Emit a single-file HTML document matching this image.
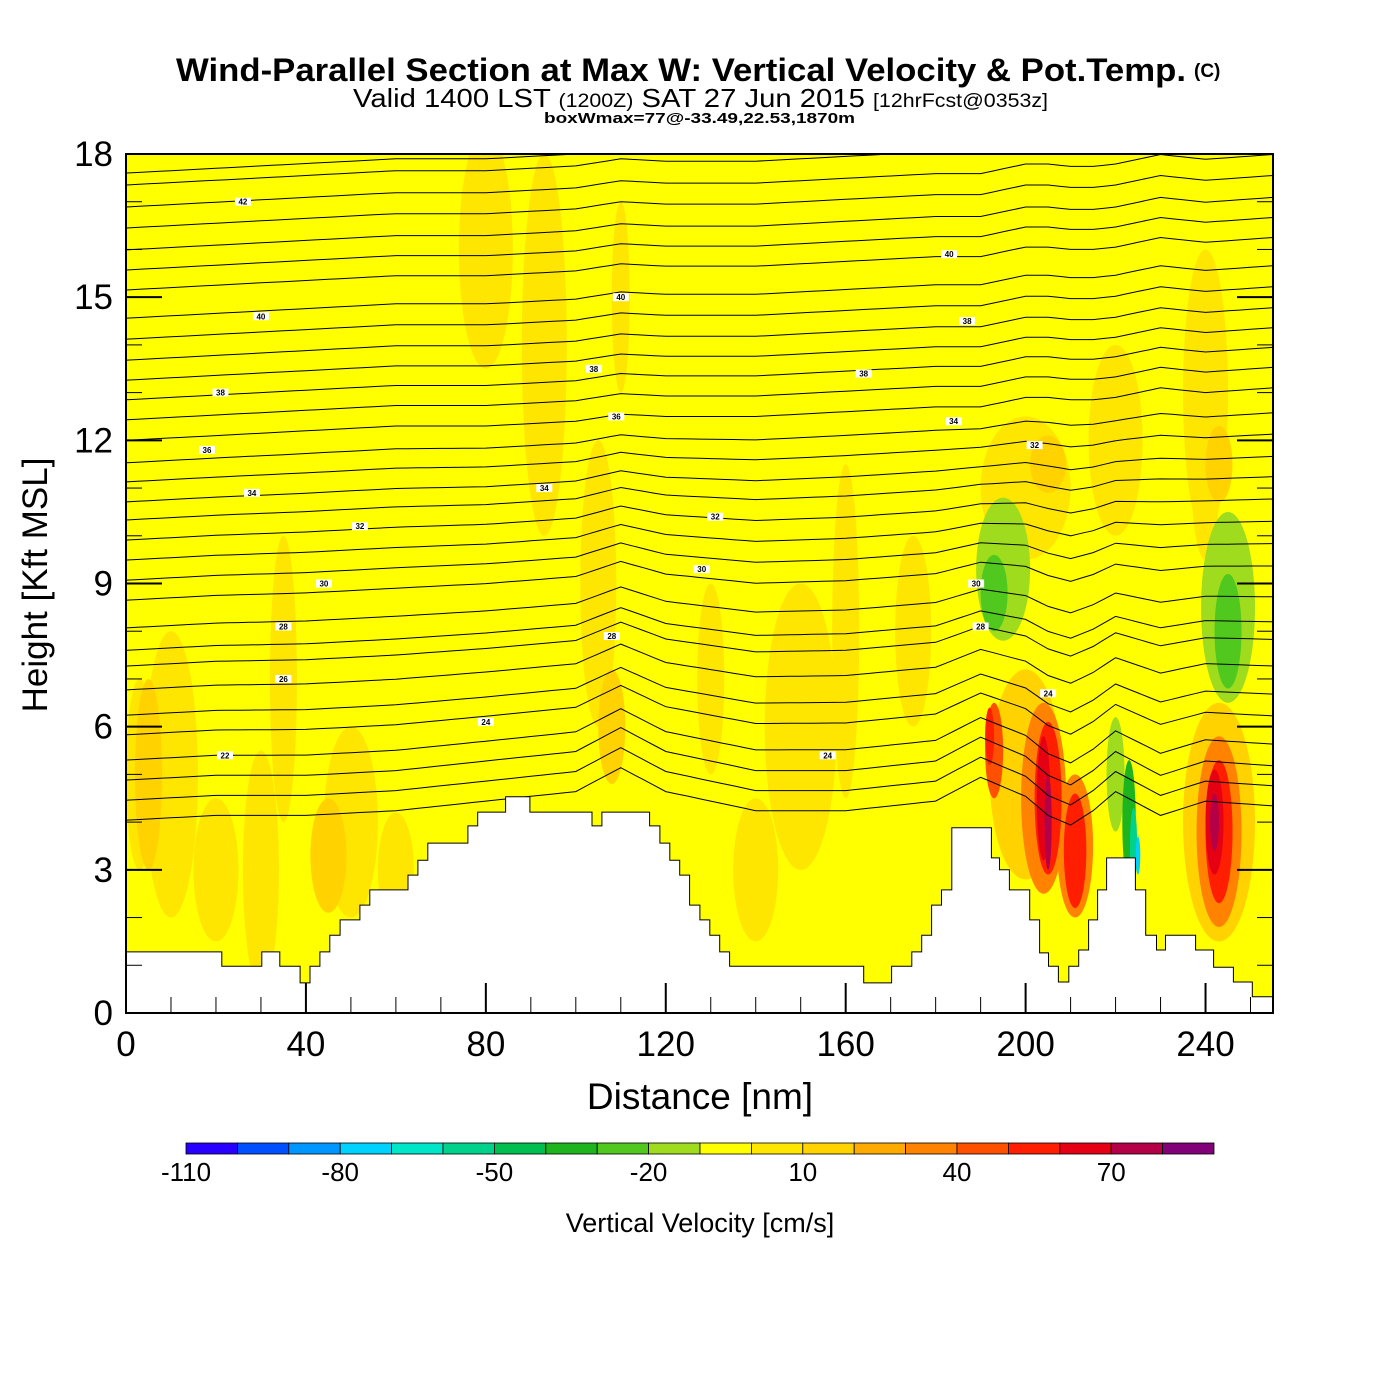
<!DOCTYPE html>
<html><head><meta charset="utf-8">
<style>
html,body{margin:0;padding:0;background:#fff;}
svg{display:block;}
text{font-family:"Liberation Sans",sans-serif;}
</style></head>
<body>
<svg id="chart" width="1400" height="1400" viewBox="0 0 1400 1400" xmlns="http://www.w3.org/2000/svg">
  <text x="176" y="81" font-size="32" font-weight="bold" textLength="1010" lengthAdjust="spacingAndGlyphs">Wind-Parallel Section at Max W: Vertical Velocity &amp; Pot.Temp.</text>
  <text x="1194" y="77" font-size="19" font-weight="bold">(C)</text>
  <text x="353" y="107" font-size="26" textLength="695" lengthAdjust="spacingAndGlyphs">Valid 1400 LST <tspan font-size="19">(1200Z)</tspan> SAT 27 Jun 2015 <tspan font-size="19">[12hrFcst@0353z]</tspan></text>
  <text x="544" y="123" font-size="15" font-weight="bold" textLength="311" lengthAdjust="spacingAndGlyphs">boxWmax=77@-33.49,22.53,1870m</text>
  <defs><clipPath id="plotclip"><rect x="126" y="154" width="1147" height="859"/></clipPath></defs>
  <g id="plot" clip-path="url(#plotclip)"></g>
  <g id="axes"></g>
  <g id="cbar"></g>
  <text x="700" y="1109" text-anchor="middle" font-size="37">Distance [nm]</text>
  <text transform="translate(47,585) rotate(-90)" text-anchor="middle" font-size="35">Height [Kft MSL]</text>
  <text x="700" y="1232" text-anchor="middle" font-size="27">Vertical Velocity [cm/s]</text>
</svg>
<script>
// ---- data ----
const xTicks = [0,40,80,120,160,200,240];
const yTicks = [0,3,6,9,12,15,18];
const cbLevels = [-110,-100,-90,-80,-70,-60,-50,-40,-30,-20,-10,0,10,20,30,40,50,60,70,80,90];
const cbLabels = [-110,-80,-50,-20,10,40,70];
const cbColors = ["#2800ff","#0050ff","#0096ff","#00d2ff","#00e6c8","#00d28c","#00be50","#1eb41e","#50c81e","#a0dc1e","#ffff00","#ffe600","#ffd200","#ffaa00","#ff8200","#ff5000","#ff1e00","#e60014","#b40046","#820078"];
// terrain: step segments start (nm) and height (kft)
const terrainX = [0,21.3,30.2,34.2,38.7,40.9,43.1,45.3,47.6,52,54.2,62.7,64.9,67.1,76,78.2,84.4,89.8,103.6,105.8,116.4,118.7,120.9,123.1,125.3,127.6,129.8,132,134.2,164,170.2,174.7,176.9,179.1,181.3,183.6,192.4,194.2,196.4,200.9,203.1,205.1,207.3,209.6,211.8,214,216,218,224.4,226.7,229.1,231.1,237.8,241.8,246.2,250.4,255];
const terrainH = [1.28,0.98,1.28,0.98,0.63,0.98,1.28,1.63,1.95,2.26,2.58,2.89,3.2,3.56,3.92,4.21,4.53,4.21,3.92,4.21,3.92,3.56,3.2,2.89,2.26,1.95,1.63,1.28,0.98,0.63,0.98,1.28,1.63,2.26,2.58,3.88,3.25,3.0,2.58,1.95,1.26,0.98,0.65,0.98,1.32,1.95,2.58,3.25,2.58,1.63,1.32,1.63,1.32,0.96,0.65,0.34];
// theta contour levels: height at x=0 (kft)
const thetaStart = [4.04,4.46,4.88,5.3,5.83,6.24,6.77,7.27,7.6,8.07,8.65,9.07,9.49,9.91,10.33,10.71,11.13,11.53,12.0,12.43,12.85,13.26,13.68,14.12,14.56,15.15,15.57,15.99,16.45,16.89,17.35,17.6];
const profX = [0,20,40,60,80,100,110,120,140,160,180,190,200,205,210,215,220,230,240,255];
const profLow = [0,0.1,0.1,0.2,0.4,0.6,1.1,0.6,0.2,0.2,0.4,0.9,0.5,0.1,-0.1,0.2,0.6,0.1,0.4,0.3];
const profHigh = [0,0.1,0.2,0.3,0.3,0.4,0.55,0.5,0.5,0.6,0.7,0.7,0.9,0.9,0.85,0.85,0.9,1.1,1.0,1.1];
// velocity blobs: center nm, center kft, radius nm, radius kft, value cm/s
const blobX = [10,30,50,80,93,110,105,150,160,175,200,220,240,35,130,240,20,60,140,3, 5,45,108,200,243,205,243, 195,245,220, 193,245, 204,211,205,211,204,205,243,243,242,242,193,192, 223,224,225];
const blobY = [5,3,4,16,14,15,9,6,8,8,11,12,13,7,7,11,3,3,3,5, 5,3.3,6,5,4,11.5,11.5, 9.3,8.5,5, 8.8,8, 4.5,3.5,4.5,3.4,4.5,4.0,3.8,3.8,4,4,5.5,5.8, 4,3.5,3.3];
const blobRX = [6,4,6,6,5,2,4,8,3,4,10,6,5,3,3,3,5,4,5,3, 3,4,3,8,8,4,3, 6,6,2, 3,3, 5,4,3,2.5,1.5,0.8,5,3,2,1,2,1, 1.5,0.8,0.5];
const blobRY = [3,2.5,2,2.5,4,2,3,3,3.5,2,1.5,2,3,3,2,1.5,1.5,1.2,1.5,2, 2,1.2,1.2,2.2,2.5,0.6,0.8, 1.5,2,1.2, 0.8,1.2, 2.0,1.5,1.6,1.2,1.3,1,2,1.5,1.1,0.6,1,0.6, 1.3,0.8,0.4];
const blobV = [5,5,5,5,5,5,5,5,5,5,5,5,5,5,5,5,5,5,5,5, 15,15,15,15,15,15,15, -15,-15,-15, -25,-25, 35,35,55,55,68,78,35,55,68,78,45,55, -35,-55,-75];
// contour labels
const labX = [26,30,21,18,28,52,44,35,35,22,80,93,104,108,110,109,131,128,156,164,184,187,202,183,189,205,190];
const labY = [17,14.6,13.0,11.8,10.9,10.2,9.0,8.1,7.0,5.4,6.1,11.0,13.5,7.9,15.0,12.5,10.4,9.3,5.4,13.4,12.4,14.5,11.9,15.9,9.0,6.7,8.1];
const labT = ["42","40","38","36","34","32","30","28","26","22","24","34","38","28","40","36","32","30","24","38","34","38","32","40","30","24","28"];

// ---- scales ----
const X0=126, X1=1273, Y0=1013, Y1=154;
const sx = nm => X0 + nm*(X1-X0)/255;
const sy = k => Y0 - k*(Y0-Y1)/18;
const NS="http://www.w3.org/2000/svg";
function mk(tag, attrs, parent){const e=document.createElementNS(NS,tag);for(const k in attrs)e.setAttribute(k,attrs[k]);parent.appendChild(e);return e;}
function colorFor(v){for(let i=0;i<cbColors.length;i++){if(v<cbLevels[i+1])return cbColors[i];}return cbColors[cbColors.length-1];}
function interp(xs,ys,x){if(x<=xs[0])return ys[0];for(let i=1;i<xs.length;i++){if(x<=xs[i]){const t=(x-xs[i-1])/(xs[i]-xs[i-1]);return ys[i-1]+t*(ys[i]-ys[i-1]);}}return ys[ys.length-1];}

const plot=document.getElementById('plot');
const bg=mk('rect',{x:X0,y:Y1,width:X1-X0,height:Y0-Y1,fill:"#ffff00"},plot);



for(let i=0;i<blobX.length;i++){
  const e=mk('ellipse',{cx:sx(blobX[i]),cy:sy(blobY[i]),rx:blobRX[i]*(X1-X0)/255,ry:blobRY[i]*(Y0-Y1)/18,fill:colorFor(blobV[i])},plot);
  
  
}

const cg=mk('g',{},plot);


for(let j=0;j<thetaStart.length;j++){
  const h0=thetaStart[j];
  const t=Math.max(0,Math.min(1,(h0-5)/7));
  let d="";
  for(let nm=0;nm<=255;nm+=2.5){
    const off=interp(profX,profLow,nm)*(1-t)+interp(profX,profHigh,nm)*t;
    d+=(nm===0?"M":"L")+sx(nm).toFixed(1)+","+sy(h0+off).toFixed(1);
  }
  const p=mk('path',{d:d,fill:"none",stroke:"#000","stroke-width":1},cg);
  
  
}

// terrain
let td="M"+sx(0)+","+sy(0);
for(let i=0;i<terrainH.length;i++){
  td+="L"+sx(terrainX[i]).toFixed(1)+","+sy(terrainH[i]).toFixed(1);
  td+="L"+sx(terrainX[i+1]).toFixed(1)+","+sy(terrainH[i]).toFixed(1);
}
td+="L"+sx(255)+","+sy(0)+"Z";
const terr=mk('path',{d:td,fill:"#fff",stroke:"#000","stroke-width":1},plot);



for(let i=0;i<labX.length;i++){
  const r=mk('rect',{x:sx(labX[i])-8,y:sy(labY[i])-4,width:16,height:8,fill:"#fff"},plot);
  
  
  const tx=mk('text',{x:sx(labX[i]),y:sy(labY[i])+3,"font-size":8,"text-anchor":"middle","font-weight":"bold"},plot);
  tx.textContent=labT[i];
  
  
}

// axes
const ax=document.getElementById('axes');
const frame=mk('rect',{x:X0,y:Y1,width:X1-X0,height:Y0-Y1,fill:"none",stroke:"#000","stroke-width":2},ax);


for(let nm=0;nm<=250;nm+=10){
  const major = xTicks.indexOf(nm)>=0;
  const L = major?30:16;
  mk('line',{x1:sx(nm),y1:Y0,x2:sx(nm),y2:Y0-L,stroke:"#000","stroke-width":major?2:1},ax);
}
for(const v of xTicks){
  const t=mk('text',{x:sx(v),y:1056,"font-size":35,"text-anchor":"middle"},ax);
  t.textContent=v;
  
  
}
for(const v of yTicks){
  mk('line',{x1:X0,y1:sy(v),x2:X0+36,y2:sy(v),stroke:"#000","stroke-width":2},ax);
  mk('line',{x1:X1,y1:sy(v),x2:X1-36,y2:sy(v),stroke:"#000","stroke-width":2},ax);
  const t=mk('text',{x:113,y:sy(v)+12,"font-size":35,"text-anchor":"end"},ax);
  t.textContent=v;
  
  
}
for(let v=1;v<18;v++){ if(v%3===0)continue;
  mk('line',{x1:X0,y1:sy(v),x2:X0+16,y2:sy(v),stroke:"#000","stroke-width":1},ax);
  mk('line',{x1:X1,y1:sy(v),x2:X1-16,y2:sy(v),stroke:"#000","stroke-width":1},ax);
}

// colorbar
const cb=document.getElementById('cbar');
const CB0=186, CB1=1214, CBY=1143, CBH=11;
const cbx = v => CB0 + (v-cbLevels[0])*(CB1-CB0)/(cbLevels[cbLevels.length-1]-cbLevels[0]);
for(let i=0;i<cbColors.length;i++){
  const r=mk('rect',{x:cbx(cbLevels[i]),y:CBY,width:cbx(cbLevels[i+1])-cbx(cbLevels[i]),height:CBH,fill:cbColors[i],stroke:"#000","stroke-width":0.8},cb);
  
  
}
for(const v of cbLabels){
  const t=mk('text',{x:cbx(v),y:1181,"font-size":26,"text-anchor":"middle"},cb);
  t.textContent=v;
  
  
}
</script>
</body></html>
